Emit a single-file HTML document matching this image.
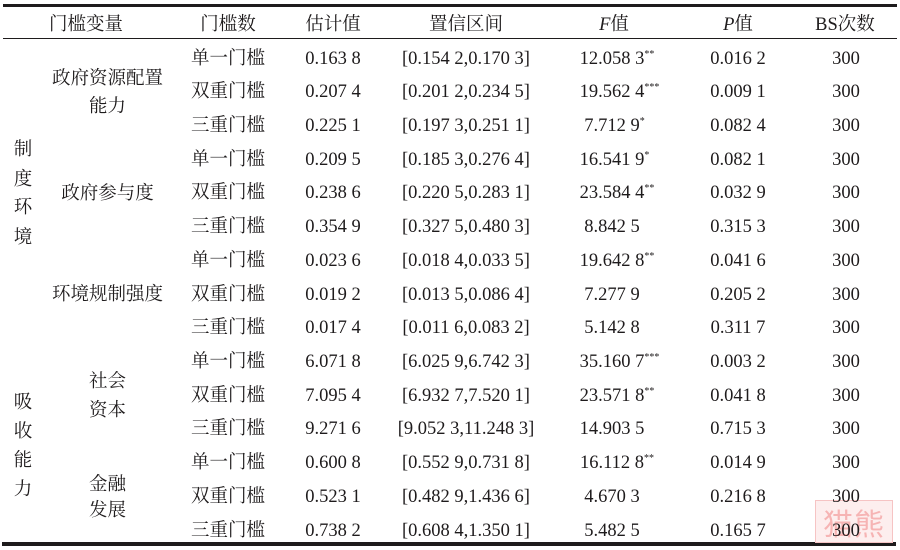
<!DOCTYPE html>
<html>
<head>
<meta charset="utf-8">
<style>
html,body{margin:0;padding:0;background:#fff;}
#w{position:relative;width:900px;height:550px;overflow:hidden;background:#fff;
  font-family:"Liberation Serif","Noto Serif CJK SC",serif;font-size:18.5px;color:#1e1b1c;}
.c{position:absolute;width:160px;text-align:center;line-height:20px;white-space:pre;margin-top:2.5px;}
.r{position:absolute;left:0;}
.n{position:relative;}
.s{position:absolute;left:100%;top:1px;font-size:10px;line-height:10px;white-space:nowrap;}
i{font-style:italic;}
</style>
</head>
<body>
<div id="w">
<div class="r" style="left:3px;top:4px;width:894px;height:3px;background:#1e1b1c;"></div>
<div class="r" style="left:3px;top:37.5px;width:894px;height:1.3px;background:#1e1b1c;"></div>
<div class="r" style="left:2px;top:542px;width:894px;height:4px;background:#1e1b1c;"></div>

<!-- watermark -->
<div style="position:absolute;left:815px;top:500px;width:76px;height:41px;background:#fdeeee;border:1px solid #f6c4c4;"></div>
<div style="position:absolute;left:817px;top:505px;width:74px;height:34px;line-height:34px;text-align:center;color:#f6b4b4;font-family:'Noto Sans CJK SC',sans-serif;font-size:30px;font-weight:normal;letter-spacing:1px;">猫熊</div>

<!-- header -->
<div class="c" style="left:6px;top:12px;">门槛变量</div>
<div class="c" style="left:148px;top:12px;">门槛数</div>
<div class="c" style="left:253px;top:12px;">估计值</div>
<div class="c" style="left:386px;top:12px;">置信区间</div>
<div class="c" style="left:534px;top:12px;"><i>F</i>值</div>
<div class="c" style="left:658px;top:12px;"><i>P</i>值</div>
<div class="c" style="left:765px;top:12px;">BS次数</div>

<!-- category labels -->
<div class="c" style="left:-57px;top:137px;">制</div>
<div class="c" style="left:-57px;top:167px;">度</div>
<div class="c" style="left:-57px;top:195px;">环</div>
<div class="c" style="left:-57px;top:225px;">境</div>
<div class="c" style="left:-57px;top:390px;">吸</div>
<div class="c" style="left:-57px;top:419px;">收</div>
<div class="c" style="left:-57px;top:448px;">能</div>
<div class="c" style="left:-57px;top:477px;">力</div>

<div class="c" style="left:27.5px;top:66px;">政府资源配置</div>
<div class="c" style="left:27.5px;top:94px;">能力</div>
<div class="c" style="left:27.5px;top:181px;">政府参与度</div>
<div class="c" style="left:27.5px;top:282px;">环境规制强度</div>
<div class="c" style="left:27.5px;top:369px;">社会</div>
<div class="c" style="left:27.5px;top:398px;">资本</div>
<div class="c" style="left:27.5px;top:472px;">金融</div>
<div class="c" style="left:27.5px;top:498px;">发展</div>

<!-- rows -->
<div class="c" style="left:148px;top:46px;">单一门槛</div>
<div class="c" style="left:253px;top:46px;">0.163 8</div>
<div class="c" style="left:386px;top:46px;">[0.154 2,0.170 3]</div>
<div class="c" style="left:532px;top:46px;"><span class="n">12.058 3<span class="s">**</span></span></div>
<div class="c" style="left:658px;top:46px;">0.016 2</div>
<div class="c" style="left:766px;top:46px;">300</div>

<div class="c" style="left:148px;top:79.7px;">双重门槛</div>
<div class="c" style="left:253px;top:79.7px;">0.207 4</div>
<div class="c" style="left:386px;top:79.7px;">[0.201 2,0.234 5]</div>
<div class="c" style="left:532px;top:79.7px;"><span class="n">19.562 4<span class="s">***</span></span></div>
<div class="c" style="left:658px;top:79.7px;">0.009 1</div>
<div class="c" style="left:766px;top:79.7px;">300</div>

<div class="c" style="left:148px;top:113.4px;">三重门槛</div>
<div class="c" style="left:253px;top:113.4px;">0.225 1</div>
<div class="c" style="left:386px;top:113.4px;">[0.197 3,0.251 1]</div>
<div class="c" style="left:532px;top:113.4px;"><span class="n">7.712 9<span class="s">*</span></span></div>
<div class="c" style="left:658px;top:113.4px;">0.082 4</div>
<div class="c" style="left:766px;top:113.4px;">300</div>

<div class="c" style="left:148px;top:147.1px;">单一门槛</div>
<div class="c" style="left:253px;top:147.1px;">0.209 5</div>
<div class="c" style="left:386px;top:147.1px;">[0.185 3,0.276 4]</div>
<div class="c" style="left:532px;top:147.1px;"><span class="n">16.541 9<span class="s">*</span></span></div>
<div class="c" style="left:658px;top:147.1px;">0.082 1</div>
<div class="c" style="left:766px;top:147.1px;">300</div>

<div class="c" style="left:148px;top:180.8px;">双重门槛</div>
<div class="c" style="left:253px;top:180.8px;">0.238 6</div>
<div class="c" style="left:386px;top:180.8px;">[0.220 5,0.283 1]</div>
<div class="c" style="left:532px;top:180.8px;"><span class="n">23.584 4<span class="s">**</span></span></div>
<div class="c" style="left:658px;top:180.8px;">0.032 9</div>
<div class="c" style="left:766px;top:180.8px;">300</div>

<div class="c" style="left:148px;top:214.6px;">三重门槛</div>
<div class="c" style="left:253px;top:214.6px;">0.354 9</div>
<div class="c" style="left:386px;top:214.6px;">[0.327 5,0.480 3]</div>
<div class="c" style="left:532px;top:214.6px;"><span class="n">8.842 5</span></div>
<div class="c" style="left:658px;top:214.6px;">0.315 3</div>
<div class="c" style="left:766px;top:214.6px;">300</div>

<div class="c" style="left:148px;top:248.3px;">单一门槛</div>
<div class="c" style="left:253px;top:248.3px;">0.023 6</div>
<div class="c" style="left:386px;top:248.3px;">[0.018 4,0.033 5]</div>
<div class="c" style="left:532px;top:248.3px;"><span class="n">19.642 8<span class="s">**</span></span></div>
<div class="c" style="left:658px;top:248.3px;">0.041 6</div>
<div class="c" style="left:766px;top:248.3px;">300</div>

<div class="c" style="left:148px;top:282px;">双重门槛</div>
<div class="c" style="left:253px;top:282px;">0.019 2</div>
<div class="c" style="left:386px;top:282px;">[0.013 5,0.086 4]</div>
<div class="c" style="left:532px;top:282px;"><span class="n">7.277 9</span></div>
<div class="c" style="left:658px;top:282px;">0.205 2</div>
<div class="c" style="left:766px;top:282px;">300</div>

<div class="c" style="left:148px;top:315.7px;">三重门槛</div>
<div class="c" style="left:253px;top:315.7px;">0.017 4</div>
<div class="c" style="left:386px;top:315.7px;">[0.011 6,0.083 2]</div>
<div class="c" style="left:532px;top:315.7px;"><span class="n">5.142 8</span></div>
<div class="c" style="left:658px;top:315.7px;">0.311 7</div>
<div class="c" style="left:766px;top:315.7px;">300</div>

<div class="c" style="left:148px;top:349.4px;">单一门槛</div>
<div class="c" style="left:253px;top:349.4px;">6.071 8</div>
<div class="c" style="left:386px;top:349.4px;">[6.025 9,6.742 3]</div>
<div class="c" style="left:532px;top:349.4px;"><span class="n">35.160 7<span class="s">***</span></span></div>
<div class="c" style="left:658px;top:349.4px;">0.003 2</div>
<div class="c" style="left:766px;top:349.4px;">300</div>

<div class="c" style="left:148px;top:383.1px;">双重门槛</div>
<div class="c" style="left:253px;top:383.1px;">7.095 4</div>
<div class="c" style="left:386px;top:383.1px;">[6.932 7,7.520 1]</div>
<div class="c" style="left:532px;top:383.1px;"><span class="n">23.571 8<span class="s">**</span></span></div>
<div class="c" style="left:658px;top:383.1px;">0.041 8</div>
<div class="c" style="left:766px;top:383.1px;">300</div>

<div class="c" style="left:148px;top:416.8px;">三重门槛</div>
<div class="c" style="left:253px;top:416.8px;">9.271 6</div>
<div class="c" style="left:386px;top:416.8px;">[9.052 3,11.248 3]</div>
<div class="c" style="left:532px;top:416.8px;"><span class="n">14.903 5</span></div>
<div class="c" style="left:658px;top:416.8px;">0.715 3</div>
<div class="c" style="left:766px;top:416.8px;">300</div>

<div class="c" style="left:148px;top:450.5px;">单一门槛</div>
<div class="c" style="left:253px;top:450.5px;">0.600 8</div>
<div class="c" style="left:386px;top:450.5px;">[0.552 9,0.731 8]</div>
<div class="c" style="left:532px;top:450.5px;"><span class="n">16.112 8<span class="s">**</span></span></div>
<div class="c" style="left:658px;top:450.5px;">0.014 9</div>
<div class="c" style="left:766px;top:450.5px;">300</div>

<div class="c" style="left:148px;top:484.2px;">双重门槛</div>
<div class="c" style="left:253px;top:484.2px;">0.523 1</div>
<div class="c" style="left:386px;top:484.2px;">[0.482 9,1.436 6]</div>
<div class="c" style="left:532px;top:484.2px;"><span class="n">4.670 3</span></div>
<div class="c" style="left:658px;top:484.2px;">0.216 8</div>
<div class="c" style="left:766px;top:484.2px;">300</div>

<div class="c" style="left:148px;top:518px;">三重门槛</div>
<div class="c" style="left:253px;top:518px;">0.738 2</div>
<div class="c" style="left:386px;top:518px;">[0.608 4,1.350 1]</div>
<div class="c" style="left:532px;top:518px;"><span class="n">5.482 5</span></div>
<div class="c" style="left:658px;top:518px;">0.165 7</div>
<div class="c" style="left:766px;top:518px;">300</div>
</div>
</body>
</html>
